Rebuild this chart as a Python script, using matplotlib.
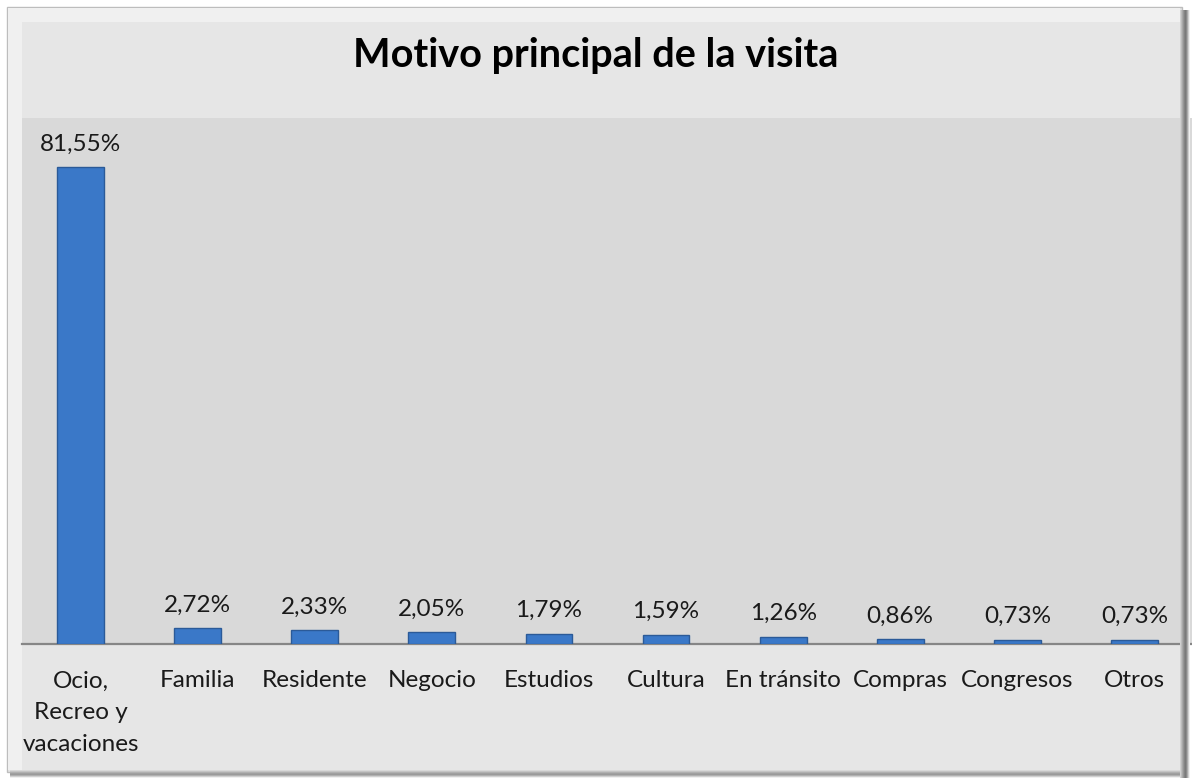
import matplotlib
matplotlib.use("Agg")
import matplotlib.pyplot as plt
from matplotlib.patches import Rectangle

plt.rcParams['font.family'] = ['Lato', 'DejaVu Sans']

# datos
categorias = ["Ocio,\nRecreo y\nvacaciones", "Familia", "Residente", "Negocio", "Estudios",
              "Cultura", "En tránsito", "Compras", "Congresos", "Otros"]
porcentajes = [81.55, 2.72, 2.33, 2.05, 1.79, 1.59, 1.26, 0.86, 0.73, 0.73]
etiquetas = ["81,55%", "2,72%", "2,33%", "2,05%", "1,79%", "1,59%", "1,26%", "0,86%", "0,73%", "0,73%"]

W, H = 1192, 782
fig = plt.figure(figsize=(W / 100, H / 100), dpi=100)
fig.patch.set_facecolor("white")

def px(x0, y0, x1, y1, **kw):
    # rectangulo en pixeles (y desde arriba)
    r = Rectangle((x0 / W, 1 - y1 / H), (x1 - x0) / W, (y1 - y0) / H,
                  transform=fig.transFigure, **kw)
    fig.add_artist(r)
    return r

# marco del grafico
px(7, 7, 1182, 772, facecolor="#e6e6e6", edgecolor="#bdbdbd", lw=1, zorder=-5)
px(8, 8, 22, 770, facecolor="#f0f0f0", edgecolor="none", zorder=-4)
px(8, 8, 1180, 22, facecolor="#f0f0f0", edgecolor="none", zorder=-4)

ax = fig.add_axes([22 / W, (H - 644) / H, 1171 / W, (644 - 118) / H])
ax.set_facecolor("#d9d9d9")

x = list(range(len(categorias)))
ax.bar(x, porcentajes, width=0.4, color="#3a78c8", edgecolor="#2b5a98", linewidth=1.0, zorder=3)

for xi, p, lab in zip(x, porcentajes, etiquetas):
    ax.annotate(lab, (xi, p), xytext=(0, 9), textcoords="offset points",
                ha="center", va="bottom", fontsize=17.5, color="#1a1a1a")

ax.set_xlim(-0.5, len(categorias) - 0.5)
ax.set_ylim(0, 90)
ax.set_yticks([])
ax.set_xticks(x)
ax.set_xticklabels(categorias, fontsize=17.5, color="#1a1a1a", linespacing=1.65)
ax.tick_params(axis="x", length=0, pad=19)
for s in ["top", "left", "right"]:
    ax.spines[s].set_visible(False)
ax.spines["bottom"].set_color("#868686")
ax.spines["bottom"].set_linewidth(1.6)

fig.text(0.5, 1 - 55 / H, "Motivo principal de la visita", ha="center", va="center",
         fontsize=28.5, fontweight="bold", color="black")

# sombra del marco
for i, c in enumerate(["#d0d0d0", "#bcbcbc", "#a8a8a8", "#959595", "#848484", "#7a7a7a", "#8a8a8a", "#aaaaaa", "#d0d0d0", "#f0f0f0"]):
    px(1180 + i, 10, 1181 + i, 778, facecolor=c, edgecolor="none", zorder=10)
for i, c in enumerate(["#d8d8d8", "#c4c4c4", "#b0b0b0", "#a0a0a0", "#9a9a9a", "#b0b0b0", "#d0d0d0", "#f0f0f0"]):
    px(10, 770 + i, 1180, 771 + i, facecolor=c, edgecolor="none", zorder=10)

fig.savefig("out.png", dpi=100)
